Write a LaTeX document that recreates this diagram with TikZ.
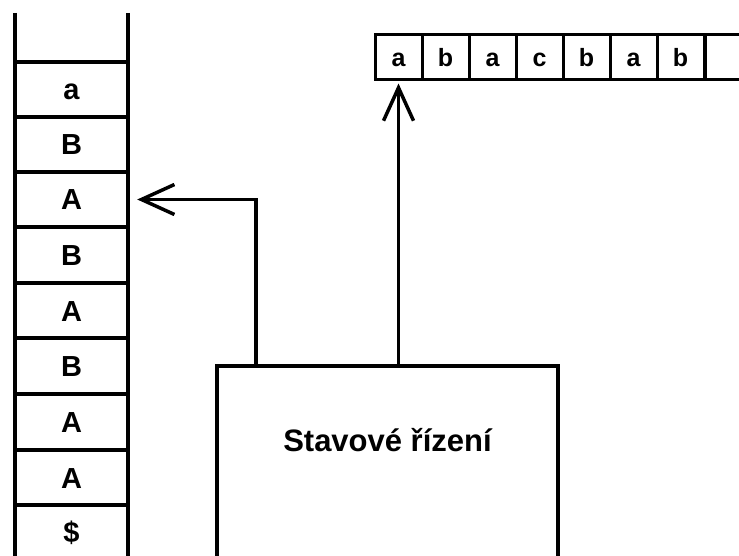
\documentclass[tikz,border=0pt]{standalone}
\usepackage{fontspec}
\setmainfont{Liberation Sans}
\usetikzlibrary{arrows.meta}
\begin{document}
\begin{tikzpicture}[x=1pt,y=-1pt,
  wall/.style={line width=3.5pt},
  stackcell/.style={minimum width=113pt,minimum height=55.5pt,inner sep=0pt,
    text height=21pt,text depth=0pt,
    font=\fontsize{29}{29}\selectfont\bfseries},
  tapecell/.style={draw,line width=3pt,minimum width=47pt,minimum height=45pt,inner sep=0pt,
    text height=18pt,text depth=0pt,
    font=\fontsize{25}{25}\selectfont\bfseries},
  ctrlbox/.style={draw,line width=3.5pt,minimum width=341pt,minimum height=240pt,inner sep=0pt},
  conn/.style={line width=3.5pt,-{Straight Barb[length=33pt,width=30pt,line width=3.5pt]}}]
\useasboundingbox[fill=white] (0,0) rectangle (739,556);

% stack: two walls with cells between them
\draw[wall] (15,13) -- (15,560);
\draw[wall] (128,13) -- (128,560);
\foreach \y in {62,117,172,227,283,338,394,450,505}
  \draw[wall] (15,\y) -- (128,\y);
\node[stackcell] (s1) at (71.5,89.5) {a};
\node[stackcell] (s2) at (71.5,144.5) {B};
\node[stackcell] (s3) at (71.5,199.5) {A};
\node[stackcell] (s4) at (71.5,255) {B};
\node[stackcell] (s5) at (71.5,310.5) {A};
\node[stackcell] (s6) at (71.5,366) {B};
\node[stackcell] (s7) at (71.5,422) {A};
\node[stackcell] (s8) at (71.5,477.5) {A};
\node[stackcell] (s9) at (71.5,532) {\$};

% input tape
\node[tapecell] (t1) at (398.5,57.5) {a};
\node[tapecell] (t2) at (445.5,57.5) {b};
\node[tapecell] (t3) at (492.5,57.5) {a};
\node[tapecell] (t4) at (539.5,57.5) {c};
\node[tapecell] (t5) at (586.5,57.5) {b};
\node[tapecell] (t6) at (633.5,57.5) {a};
\node[tapecell] (t7) at (680.5,57.5) {b};
\node[tapecell,minimum width=60pt,anchor=west] (t8) at (704,57.5) {};

% control unit
\node[ctrlbox,anchor=north] (ctrl) at (387.5,364) {};
\node[font=\fontsize{31}{31}\selectfont\bfseries] (lbl) at (387.5,440) {Stavové řízení};

% connectors
\draw[conn] (ctrl.north -| 256,0) |- ([xshift=9pt]s3.east);
\draw[conn] (ctrl.north -| t1) -- ([yshift=-2pt]t1.south);
\end{tikzpicture}
\end{document}
